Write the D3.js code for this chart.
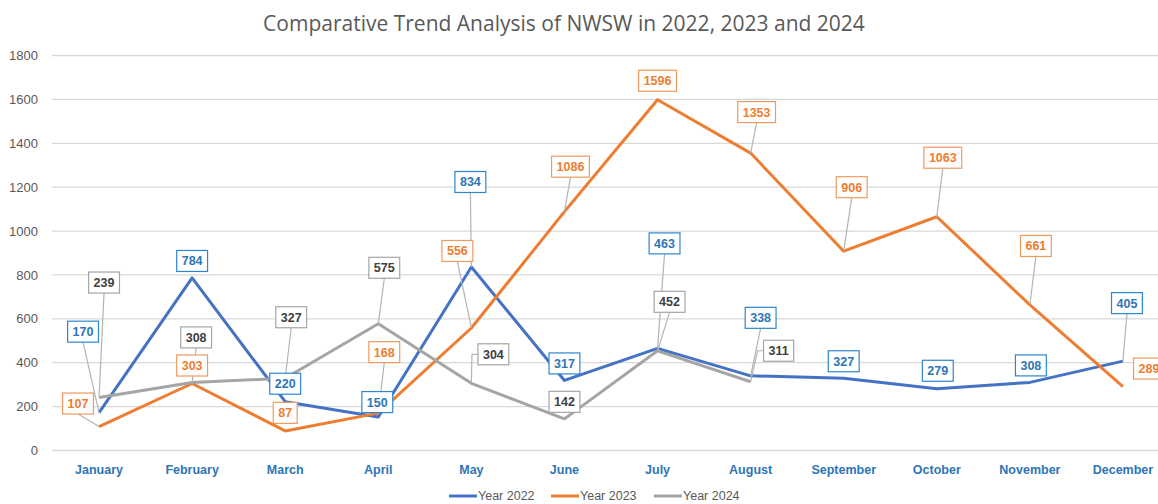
<!DOCTYPE html>
<html>
  <head>
    <title>Comparative Trend Analysis of NWSW</title>
    <script src="https://cdn.jsdelivr.net/npm/d3@7"></script>
    <style>
      body { margin: 0; background: #fff; }
      text { font-family: "Liberation Sans", Arial, sans-serif; }
    </style>
  </head>
  <body>
    <script>
      // data
      var months = ["January", "February", "March", "April", "May", "June",
                    "July", "August", "September", "October", "November", "December"];
      var year2022 = [170, 784, 220, 150, 834, 317, 463, 338, 327, 279, 308, 405];
      var year2023 = [107, 303, 87, 168, 556, 1086, 1596, 1353, 906, 1063, 661, 289];
      var year2024 = [239, 308, 327, 575, 304, 142, 452, 311];
      var seriesNames = ["Year 2022", "Year 2023", "Year 2024"];
      var yTicks = [0, 200, 400, 600, 800, 1000, 1200, 1400, 1600, 1800];

      // where each data label box sits, relative to its point (px)
      var labelOff2022 = [[-16,-81],[0,-17],[0,-18],[-1,-15],[-1,-85],[0,-17],[7,-105],[10,-58],[0,-17],[1,-18],[1,-17],[4,-58]];
      var labelOff2023 = [[-21,-23],[0,-18],[0,-18],[6,-61],[-14,-77],[6,-45],[0,-19],[6,-41],[8,-64],[6,-59],[6,-59],[26,-18]];
      var labelOff2024 = [[5,-115],[4,-45],[6,-61],[6,-56],[22,-29],[0,-17],[12,-49],[28,-31]];

      var width = 1158, height = 504;

      var svg = d3.select("body")
        .append("svg")
        .attr("width", width)
        .attr("height", height);

      var x = d3.scaleBand()
        .domain(months)
        .range([52.5, 1169.5])
        .padding(0);

      var y = d3.scaleLinear()
        .domain([0, 1800])
        .range([450, 55]);

      function cx(m) { return x(m) + x.bandwidth() / 2; }

      // title
      svg.append("text")
        .attr("x", 564)
        .attr("y", 31)
        .attr("text-anchor", "middle")
        .attr("fill", "#595959")
        .style("font-family", "'Open Sans', sans-serif")
        .style("font-size", "21px")
        .text("Comparative Trend Analysis of NWSW in 2022, 2023 and 2024");

      // gridlines + y labels
      var yAxis = d3.axisLeft(y).tickValues(yTicks).tickFormat(d3.format("d"))
        .tickSize(-(1170 - 52)).tickPadding(14);
      var gy = svg.append("g")
        .attr("transform", "translate(52,0)")
        .call(yAxis);
      gy.select(".domain").remove();
      gy.selectAll(".tick line").attr("stroke", "#d9d9d9").attr("stroke-width", 1.3);
      gy.selectAll(".tick text")
        .attr("fill", "#595959")
        .style("font-size", "13px")
        .attr("dy", "0.35em");

      // month labels
      var xAxis = d3.axisBottom(x).tickSize(0).tickPadding(0);
      var gx = svg.append("g")
        .attr("transform", "translate(0,465)")
        .call(xAxis);
      gx.select(".domain").remove();
      gx.selectAll(".tick text")
        .attr("fill", "#2e75b6")
        .style("font-size", "12.5px")
        .style("font-weight", "bold")
        .attr("dy", "0.75em");

      var series = [
        { name: seriesNames[0], values: year2022, offs: labelOff2022, line: "#4472c4", text: "#2e75b6", border: "#2e86d0" },
        { name: seriesNames[1], values: year2023, offs: labelOff2023, line: "#ed7d31", text: "#ed7d31", border: "#f19a5e" },
        { name: seriesNames[2], values: year2024, offs: labelOff2024, line: "#a5a5a5", text: "#404040", border: "#a5a5a5" }
      ];

      var line = d3.line()
        .x(function(d, i) { return cx(months[i]); })
        .y(function(d) { return y(d); });

      series.forEach(function(s) {
        svg.append("path")
          .datum(s.values)
          .attr("fill", "none")
          .attr("stroke", s.line)
          .attr("stroke-width", 3)
          .attr("stroke-linejoin", "round")
          .attr("d", line);
      });

      // leader lines and label boxes
      var leaders = svg.append("g");
      var labels = svg.append("g");

      series.forEach(function(s) {
        s.values.forEach(function(v, i) {
          var px = cx(months[i]), py = y(v);
          var bx = px + s.offs[i][0], by = py + s.offs[i][1];

          var g = labels.append("g");
          var t = g.append("text")
            .attr("x", bx)
            .attr("y", by)
            .attr("dy", "0.36em")
            .attr("text-anchor", "middle")
            .attr("fill", s.text)
            .style("font-size", "12.5px")
            .style("font-weight", "bold")
            .text(v);
          var w = t.node().getComputedTextLength() + 10, h = 21;
          g.insert("rect", "text")
            .attr("x", bx - w / 2)
            .attr("y", by - h / 2)
            .attr("width", w)
            .attr("height", h)
            .attr("fill", "#fff")
            .attr("stroke", s.border)
            .attr("stroke-width", 1.2);

          var bottom = by + h / 2;
          if (py - bottom > 10) {
            var pts;
            if (bx - px > w / 2) {
              var lx = bx - w / 2;
              pts = [[lx, by], [lx - 6, by], [px, py]];
            } else {
              pts = [[bx, bottom], [px, py]];
            }
            leaders.append("path")
              .attr("d", d3.line()(pts))
              .attr("fill", "none")
              .attr("stroke", "#b4b4b4")
              .attr("stroke-width", 1.2);
          }
        });
      });

      // legend
      var legendX = [449, 551, 654];
      var legend = svg.append("g");
      series.forEach(function(s, i) {
        legend.append("line")
          .attr("x1", legendX[i]).attr("x2", legendX[i] + 28)
          .attr("y1", 496).attr("y2", 496)
          .attr("stroke", s.line)
          .attr("stroke-width", 3);
        legend.append("text")
          .attr("x", legendX[i] + 29)
          .attr("y", 496)
          .attr("dy", "0.35em")
          .attr("fill", "#595959")
          .style("font-size", "12.5px")
          .text(s.name);
      });
    </script>
  </body>
</html>
